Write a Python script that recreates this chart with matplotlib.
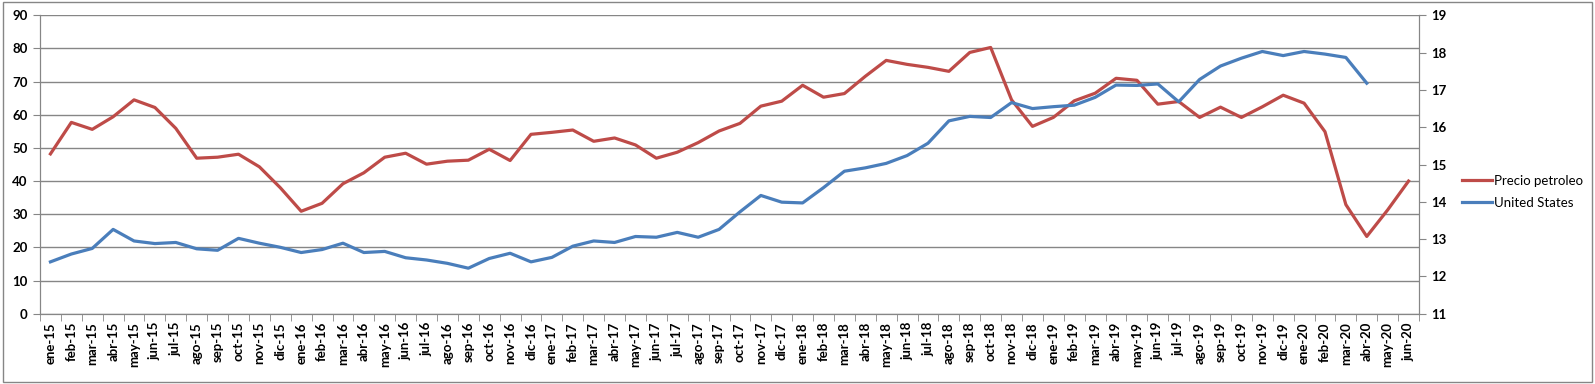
import matplotlib
matplotlib.use("Agg")
import matplotlib.pyplot as plt
from matplotlib.patches import Rectangle
import numpy as np

months = ["ene", "feb", "mar", "abr", "may", "jun", "jul", "ago", "sep", "oct", "nov", "dic"]
years = ["15", "16", "17", "18", "19", "20"]
labels = [m + "-" + y for y in years for m in months][:66]  # ene-15 .. jun-20

# oil price (left axis)
precio_petroleo = [
    48.2, 57.7, 55.6, 59.4, 64.5, 62.2, 55.9, 46.9, 47.2, 48.1, 44.3, 38.0,
    30.9, 33.3, 39.2, 42.5, 47.2, 48.4, 45.1, 46.0, 46.3, 49.6, 46.2, 54.1,
    54.7, 55.4, 52.0, 53.0, 50.9, 46.9, 48.7, 51.6, 55.1, 57.4, 62.6, 64.1,
    68.9, 65.3, 66.4, 71.6, 76.4, 75.2, 74.3, 73.1, 78.8, 80.3, 64.5, 56.5,
    59.2, 64.2, 66.5, 71.0, 70.4, 63.2, 64.0, 59.2, 62.3, 59.2, 62.4, 65.9,
    63.5, 54.9, 32.9, 23.3, 31.3, 40.0,
]

# United States (right axis), no data for may-20 / jun-20
united_states = [
    12.39, 12.60, 12.75, 13.26, 12.95, 12.88, 12.91, 12.74, 12.70, 13.02, 12.89, 12.78,
    12.64, 12.72, 12.89, 12.64, 12.67, 12.50, 12.44, 12.35, 12.22, 12.48, 12.62, 12.39,
    12.51, 12.81, 12.95, 12.91, 13.07, 13.05, 13.18, 13.05, 13.26, 13.73, 14.17, 13.99,
    13.97, 14.38, 14.82, 14.91, 15.03, 15.24, 15.57, 16.17, 16.29, 16.26, 16.66, 16.50,
    16.55, 16.59, 16.80, 17.13, 17.12, 17.16, 16.68, 17.28, 17.64, 17.85, 18.03, 17.92,
    18.03, 17.96, 17.87, 17.18, np.nan, np.nan,
]

RED = "#BE4B48"
BLUE = "#4A7EBB"
GRID = "#868686"

plt.rcParams["font.family"] = ["Lato", "DejaVu Sans"]

fig = plt.figure(figsize=(15.95, 3.84), dpi=100)
fig.patches.append(Rectangle((0.002, 0.004), 0.996, 0.99, transform=fig.transFigure,
                             fill=False, edgecolor=GRID, lw=1))

ax = fig.add_axes([40 / 1595, 70.3 / 384, 1379 / 1595, 298.4 / 384])
ax2 = ax.twinx()

x = np.arange(len(labels))
ax.plot(x, precio_petroleo, color=RED, lw=2.3, label="Precio petroleo", zorder=3)
ax2.plot(x, united_states, color=BLUE, lw=2.3, label="United States", zorder=3)

ax.set_xlim(-0.5, len(labels) - 0.5)
ax.set_ylim(0, 90)
ax.set_yticks(np.arange(0, 91, 10))
ax2.set_ylim(11, 19)
ax2.set_yticks(np.arange(11, 20, 1))

ax.grid(axis="y", color=GRID, lw=1)
ax.set_axisbelow(True)

ax.set_xticks(x)
ax.set_xticklabels(labels, rotation=90, fontsize=9.5, fontweight="bold")
ax.set_xticks(np.arange(-0.5, len(labels), 1), minor=True)
ax.tick_params(axis="x", which="major", length=0, pad=6)
ax.tick_params(axis="x", which="minor", length=5, color=GRID, direction="out")
ax.tick_params(axis="y", length=5, color=GRID, labelsize=9.5, pad=4)
ax2.tick_params(axis="y", length=5, color=GRID, labelsize=9.5, pad=4)
for t in ax.get_yticklabels() + ax2.get_yticklabels():
    t.set_fontweight("bold")

for a in (ax, ax2):
    a.spines["top"].set_visible(False)
    for s in ("left", "right", "bottom"):
        a.spines[s].set_color(GRID)

h1, l1 = ax.get_legend_handles_labels()
h2, l2 = ax2.get_legend_handles_labels()
fig.legend(h1 + h2, l1 + l2, loc="center left", bbox_to_anchor=(1462 / 1595, 192 / 384),
           frameon=False, fontsize=9.5, handlelength=2.3, handletextpad=0.1,
           labelspacing=0.75, borderpad=0, borderaxespad=0)

fig.savefig("out.png", dpi=100)
